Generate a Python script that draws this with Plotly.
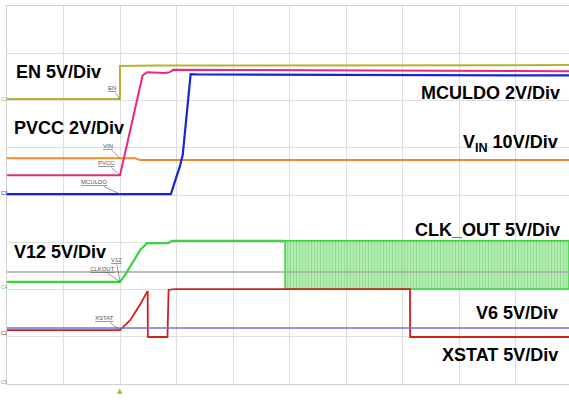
import plotly.graph_objects as go

# time axis in us from left edge of screen (500 us / div), amplitude in screen divisions
en_t = [0, 1000, 1000, 1300, 4973]
en_v = [6.03, 6.03, 6.73, 6.74, 6.75]

pvcc_t = [0, 1000, 1020, 1130, 1200, 1240, 1400, 1442, 1470, 4973]
pvcc_v = [4.42, 4.42, 4.63, 5.80, 6.53, 6.60, 6.58, 6.60, 6.65, 6.62]

mculdo_t = [0, 1450, 1530, 1555, 1625, 1700, 4973]
mculdo_v = [4.02, 4.02, 4.61, 4.85, 6.56, 6.55, 6.53]

vin_t = [0, 1130, 1175, 4973]
vin_v = [4.78, 4.78, 4.74, 4.74]

v12_t = [0, 1000, 1045, 1180, 1240, 1425, 1460, 2460]
v12_v = [2.16, 2.16, 2.31, 2.84, 2.98, 2.98, 3.03, 3.03]

clk_ref_t = [0, 4973]
clk_ref_v = [2.37, 2.37]
clk_start, clk_end = 2460, 4973
clk_high, clk_low = 3.03, 2.01

v6_t = [0, 4973]
v6_v = [1.185, 1.185]

xstat_t = [0, 1000, 1090, 1175, 1245, 1246, 1420, 1430, 1480, 3566, 3567, 4973]
xstat_v = [1.14, 1.14, 1.35, 1.67, 1.97, 0.995, 0.995, 1.99, 2.01, 2.01, 0.995, 0.995]

fig = go.Figure()

# clock burst
fig.add_trace(go.Scatter(
    x=[clk_start, clk_end, clk_end, clk_start, clk_start],
    y=[clk_low, clk_low, clk_high, clk_high, clk_low],
    mode='lines', fill='toself', line=dict(color='#3cd23c', width=1.5),
    fillpattern=dict(shape='|', fgcolor='#40d040', bgcolor='rgba(200,240,200,0.6)',
                     size=3, solidity=0.7),
    hoverinfo='skip', showlegend=False))

traces = [
    (clk_ref_t, clk_ref_v, '#a8a8a8', 1.5),
    (vin_t, vin_v, '#f08c28', 2),
    (en_t, en_v, '#b4b430', 2),
    (pvcc_t, pvcc_v, '#e8287c', 2),
    (mculdo_t, mculdo_v, '#1428d2', 2.2),
    (v12_t, v12_v, '#3cd23c', 2.2),
    (xstat_t, xstat_v, '#d22020', 1.8),
    (v6_t, v6_v, '#7070e0', 1.5),
]
for t, v, c, w in traces:
    fig.add_trace(go.Scatter(x=t, y=v, mode='lines', line=dict(color=c, width=w),
                             hoverinfo='skip', showlegend=False))

big = dict(family='Arial', size=18, color='black')
labels = [
    ('EN 5V/Div', 62, 6.60, 'left'),
    ('PVCC 2V/Div', 44, 5.42, 'left'),
    ('MCULDO 2V/Div', 4912, 6.16, 'right'),
    ('V<sub>IN</sub> 10V/Div', 4894, 5.10, 'right'),
    ('CLK_OUT 5V/Div', 4912, 3.26, 'right'),
    ('V12 5V/Div', 44, 2.79, 'left'),
    ('V6 5V/Div', 4894, 1.50, 'right'),
    ('XSTAT 5V/Div', 4894, 0.61, 'right'),
    ('500µs/Div', 2487, -0.47, 'center'),
]
for txt, x, y, xa in labels:
    fig.add_annotation(x=x, y=y, text='<b>' + txt + '</b>', showarrow=False,
                       xanchor=xa, yanchor='middle', font=big)

# small scope trace tags with leader lines
small = dict(family='Arial', size=6, color='#555555')
tags = [
    ('<u>EN</u>', 1000, 6.03, -8, -11),
    ('<u>VIN</u>', 1000, 4.78, -12, -12),
    ('<u>PVCC</u>', 1000, 4.42, -14, -12),
    ('<u>MCULDO</u>', 1000, 4.02, -26, -12),
    ('<u>V12</u>', 1000, 2.16, -4, -22),
    ('<u>CLKOUT</u>', 1000, 2.16, -18, -13),
    ('<u>XSTAT</u>', 1000, 1.14, -16, -12),
]
for txt, x, y, ax, ay in tags:
    fig.add_annotation(x=x, y=y, text=txt, showarrow=True, arrowhead=0,
                       arrowwidth=0.6, arrowcolor='#555555', ax=ax, ay=ay, font=small)

# channel markers on left edge
chan = [('C1', 6.03, '#b4b430'), ('C3', 4.05, '#1428d2'), ('C4', 2.05, '#3cd23c'),
        ('C2', 1.07, '#d22020'), ('C6', 0.04, '#999999')]
for txt, y, c in chan:
    fig.add_annotation(x=0, y=y, text=txt, showarrow=False, xanchor='left', xshift=-7,
                       borderpad=0, font=dict(family='Arial', size=5, color=c))

# trigger marker
fig.add_annotation(x=1000, y=0, text='▲', showarrow=False, yanchor='top', yshift=-1,
                   font=dict(family='DejaVu Sans', size=7, color='#b4b430'))

fig.update_layout(
    width=569, height=417,
    margin=dict(l=7, r=0, t=6, b=33),
    plot_bgcolor='white', paper_bgcolor='white',
    xaxis=dict(range=[0, 4973], tick0=0, dtick=500, showticklabels=False, ticks='',
               showgrid=True, gridcolor='#dedede', gridwidth=1, zeroline=False,
               showline=True, mirror=True, linecolor='#d0d0d0', linewidth=1),
    yaxis=dict(range=[0, 8], tick0=0, dtick=1, showticklabels=False, ticks='',
               showgrid=True, gridcolor='#dedede', gridwidth=1, zeroline=False,
               showline=True, linecolor='#d0d0d0', linewidth=1),
)

fig.write_html("out.html", config={'displayModeBar': False},
               post_script="document.body.style.margin='0';")
